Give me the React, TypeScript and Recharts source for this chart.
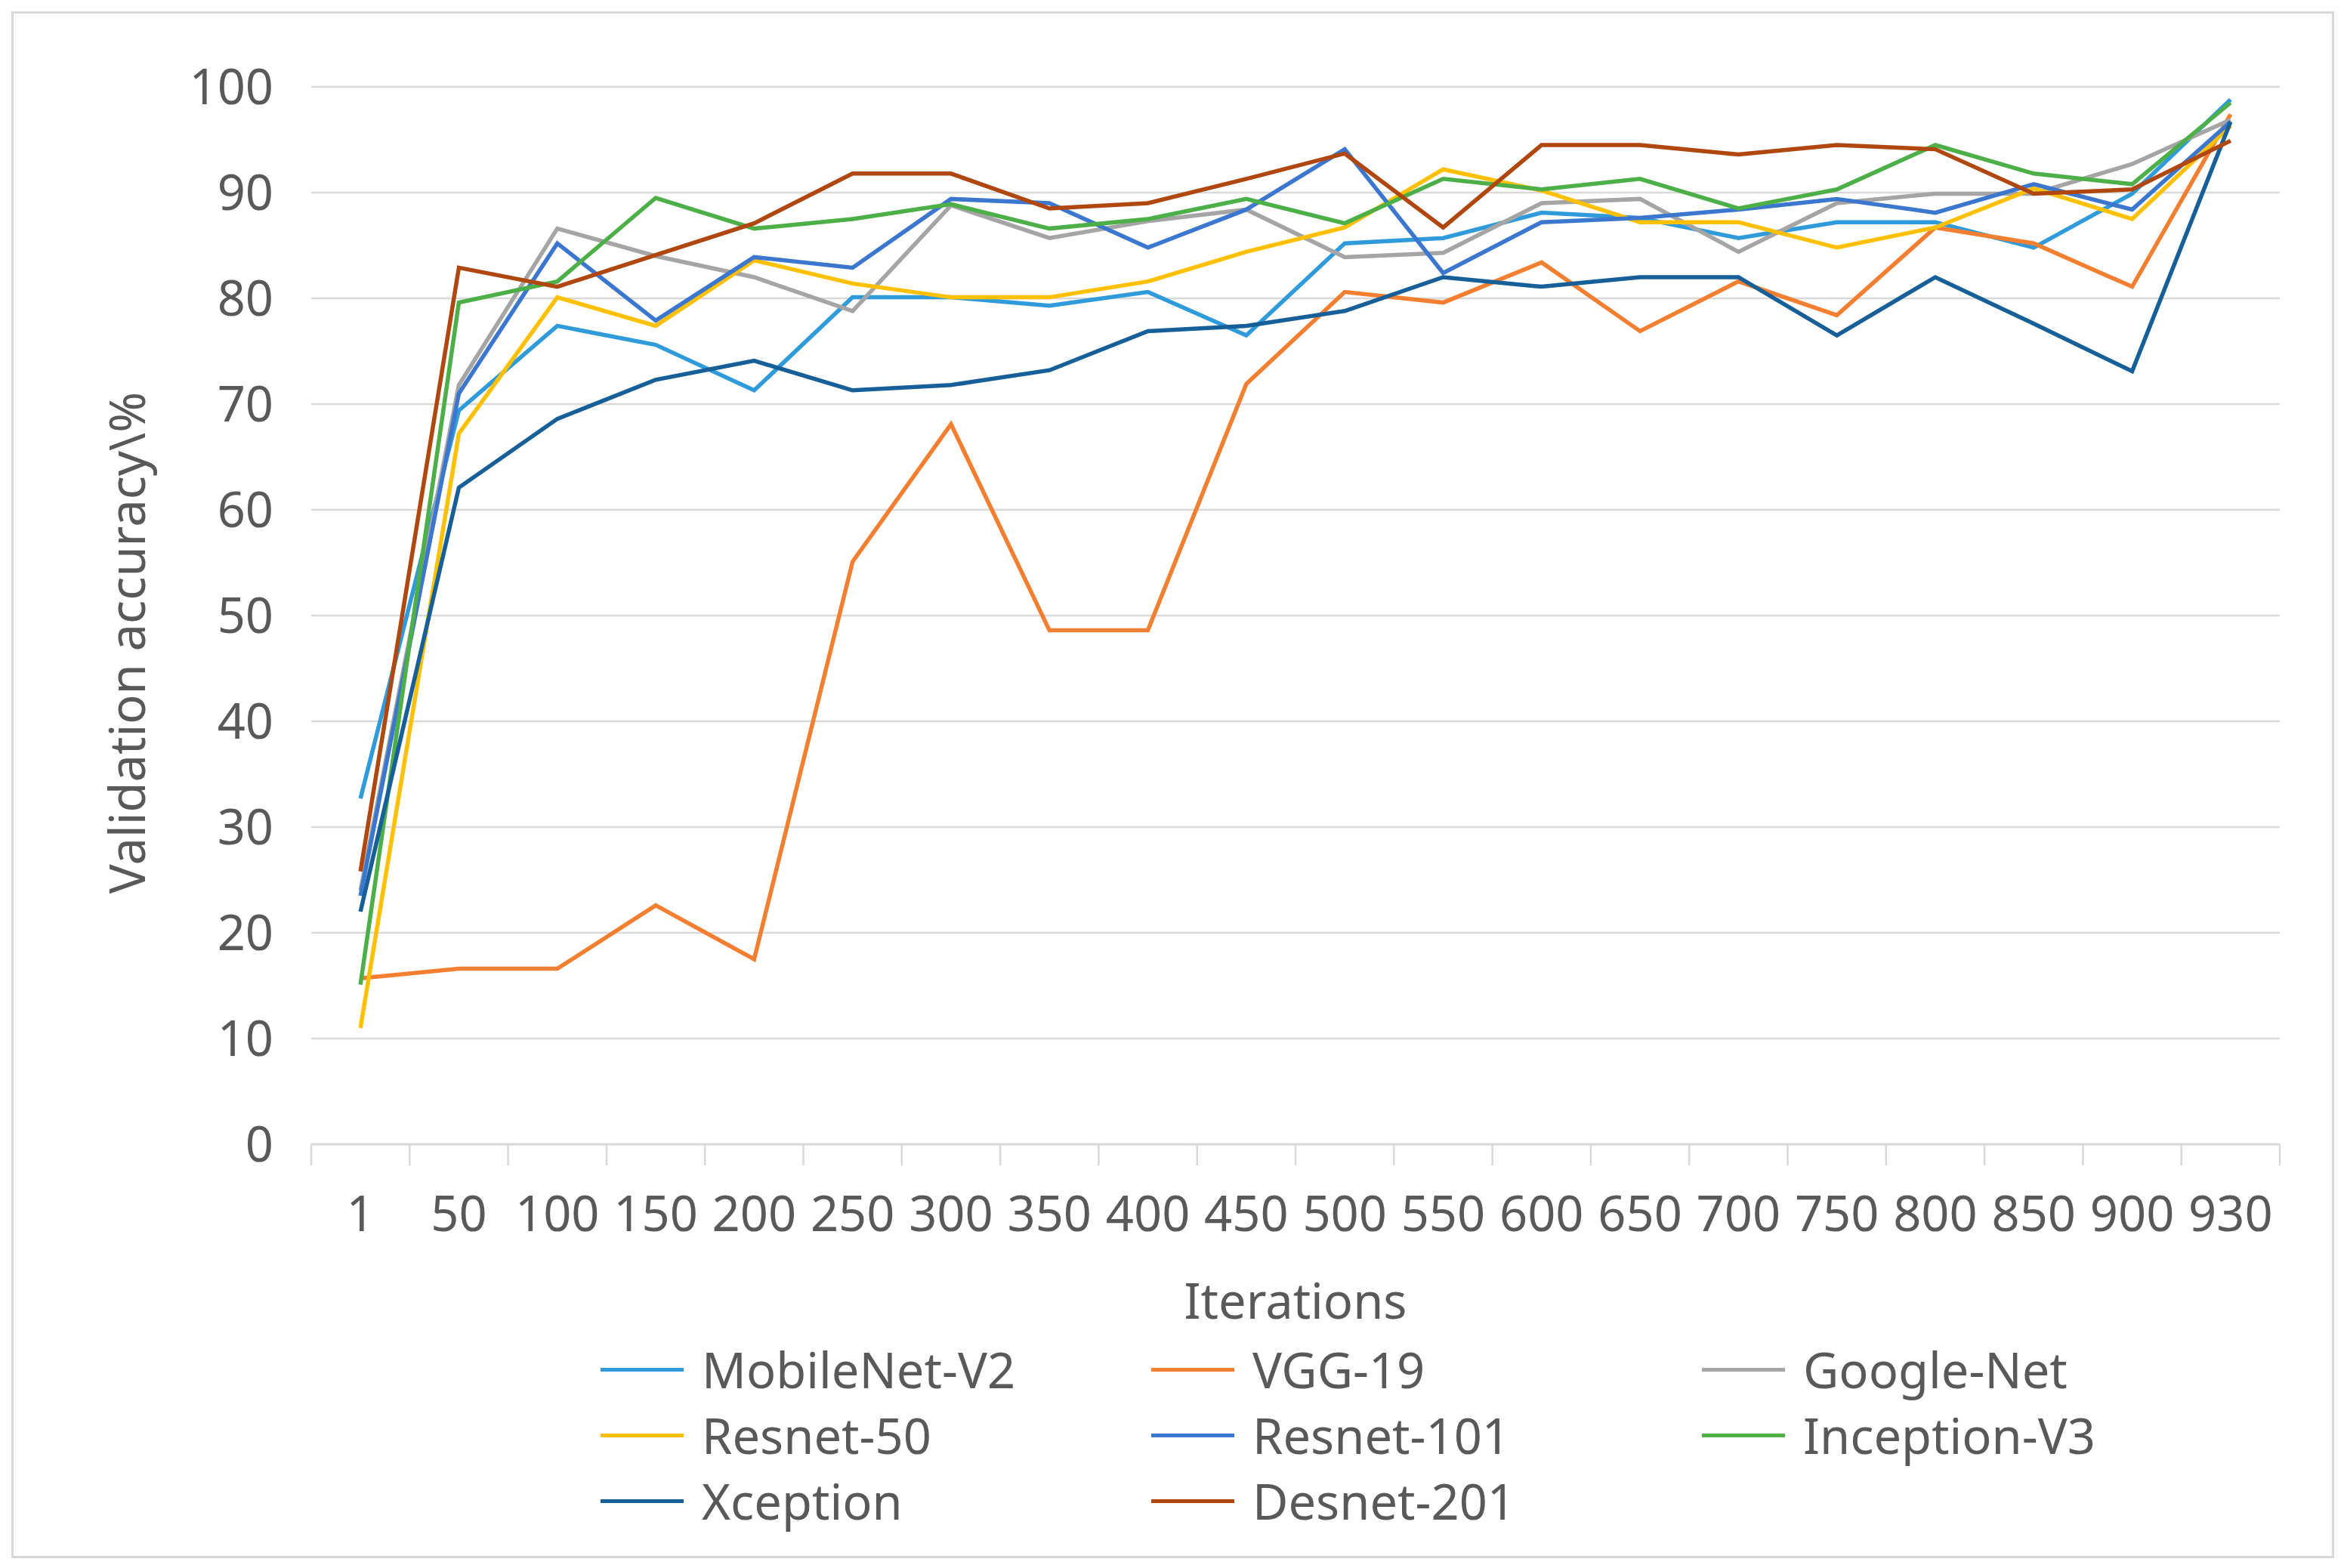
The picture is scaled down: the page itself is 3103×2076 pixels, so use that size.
import { LineChart, Line, XAxis, YAxis, CartesianGrid, Legend } from 'recharts';

const iterations = ['1', '50', '100', '150', '200', '250', '300', '350', '400', '450', '500', '550', '600', '650', '700', '750', '800', '850', '900', '930'];

const mobileNetV2 = [32.7, 69.4, 77.4, 75.6, 71.3, 80.1, 80.1, 79.3, 80.6, 76.5, 85.2, 85.7, 88.1, 87.6, 85.7, 87.2, 87.2, 84.8, 89.9, 98.8];
const vgg19 = [15.7, 16.6, 16.6, 22.6, 17.5, 55.1, 68.1, 48.6, 48.6, 71.9, 80.6, 79.6, 83.4, 76.9, 81.6, 78.4, 86.7, 85.2, 81.1, 97.4];
const googleNet = [24.0, 71.8, 86.6, 84.0, 82.0, 78.8, 88.8, 85.7, 87.3, 88.4, 83.9, 84.3, 89.0, 89.4, 84.4, 89.0, 89.9, 89.9, 92.7, 96.9];
const resnet50 = [11.0, 67.2, 80.1, 77.4, 83.6, 81.4, 80.1, 80.1, 81.6, 84.4, 86.7, 92.2, 90.2, 87.2, 87.2, 84.8, 86.7, 90.4, 87.5, 96.3];
const resnet101 = [23.5, 71.0, 85.2, 77.9, 83.9, 82.9, 89.4, 89.0, 84.8, 88.4, 94.1, 82.4, 87.2, 87.6, 88.4, 89.4, 88.1, 90.8, 88.4, 96.7];
const inceptionV3 = [15.1, 79.6, 81.6, 89.5, 86.6, 87.5, 88.9, 86.6, 87.5, 89.4, 87.1, 91.3, 90.3, 91.3, 88.5, 90.3, 94.5, 91.8, 90.8, 98.5];
const xception = [22.0, 62.1, 68.6, 72.3, 74.1, 71.3, 71.8, 73.2, 76.9, 77.4, 78.8, 82.0, 81.1, 82.0, 82.0, 76.5, 82.0, 77.6, 73.1, 96.7];
const desnet201 = [25.8, 82.9, 81.1, 84.1, 87.1, 91.8, 91.8, 88.5, 89.0, 91.3, 93.7, 86.7, 94.5, 94.5, 93.6, 94.5, 94.1, 89.9, 90.3, 94.9];

const yTicks = [0, 10, 20, 30, 40, 50, 60, 70, 80, 90, 100];

const series = [
  { key: 'MobileNet-V2', values: mobileNetV2, color: '#2F9BDA' },
  { key: 'VGG-19', values: vgg19, color: '#F47F30' },
  { key: 'Google-Net', values: googleNet, color: '#A5A5A5' },
  { key: 'Resnet-50', values: resnet50, color: '#FFC000' },
  { key: 'Resnet-101', values: resnet101, color: '#3B77CF' },
  { key: 'Inception-V3', values: inceptionV3, color: '#4CAF47' },
  { key: 'Xception', values: xception, color: '#175F98' },
  { key: 'Desnet-201', values: desnet201, color: '#AF470F' },
];

const data = iterations.map((it, i) => {
  const row: Record<string, string | number> = { iteration: it };
  series.forEach((s) => {
    row[s.key] = s.values[i];
  });
  return row;
});

const FONT = '"Noto Sans", "Open Sans", sans-serif';
const TEXT = '#595959';
const GRID = '#D9D9D9';
const FS = 65;
const W = 3103;
const H = 2076;
const PLOT_LEFT = 412;
const PLOT_RIGHT = 85;
const BAND = (W - PLOT_LEFT - PLOT_RIGHT) / iterations.length;

const XTick = (props: any) => {
  const { x, y, payload, index } = props;
  const left = x - BAND / 2;
  return (
    <g>
      <line x1={left} y1={y} x2={left} y2={y + 28} stroke={GRID} strokeWidth={2.5} />
      {index === iterations.length - 1 && (
        <line x1={x + BAND / 2} y1={y} x2={x + BAND / 2} y2={y + 28} stroke={GRID} strokeWidth={2.5} />
      )}
      <text x={x} y={y + 115} textAnchor="middle" fill={TEXT} fontSize={FS} fontFamily={FONT}>
        {payload.value}
      </text>
    </g>
  );
};

const YLabel = (props: any) => {
  const { viewBox } = props;
  const cx = 192;
  const cy = viewBox.y + viewBox.height / 2 + 36;
  return (
    <text x={cx} y={cy} transform={`rotate(-90 ${cx} ${cy})`} textAnchor="middle" fill={TEXT} fontSize={FS} fontFamily={FONT}>
      Validation accuracy\%
    </text>
  );
};

const LegendBox = () => (
  <div style={{ position: 'relative', width: W - PLOT_RIGHT, height: 300, fontFamily: FONT }}>
    {series.map((s, i) => {
      const col = i % 3;
      const row = Math.floor(i / 3);
      const left = 795 + col * 729;
      const top = 37 + row * 87;
      return (
        <div key={s.key} style={{ position: 'absolute', left, top: top - 45, height: 90, display: 'flex', alignItems: 'center' }}>
          <div style={{ width: 110, height: 5, background: s.color, marginRight: 24 }} />
          <span style={{ fontSize: FS, color: TEXT, whiteSpace: 'nowrap' }}>{s.key}</span>
        </div>
      );
    })}
  </div>
);

export default function App() {
  return (
    <div style={{ position: 'absolute', left: 0, top: 0, width: W, height: H, background: '#fff' }}>
      <div style={{ position: 'absolute', left: 15, top: 15, width: W - 34, height: H - 34, border: `3px solid ${GRID}` }} />
      <LineChart width={W} height={H} data={data} margin={{ top: 115, right: PLOT_RIGHT, left: 0, bottom: 0 }}>
        <CartesianGrid vertical={false} stroke={GRID} strokeWidth={2.5} />
        <XAxis
          dataKey="iteration"
          height={261}
          tickSize={0}
          tickMargin={0}
          interval={0}
          padding={{ left: BAND / 2, right: BAND / 2 }}
          axisLine={{ stroke: GRID, strokeWidth: 3 }}
          tickLine={false}
          tick={<XTick />}
          label={{ value: 'Iterations', position: 'insideBottom', offset: 30, fill: TEXT, fontSize: FS, fontFamily: FONT }}
        />
        <YAxis
          width={PLOT_LEFT}
          domain={[0, 100]}
          ticks={yTicks}
          interval={0}
          axisLine={false}
          tickLine={false}
          tickSize={0}
          tickMargin={50}
          tick={{ fill: TEXT, fontSize: FS, fontFamily: FONT }}
          label={<YLabel />}
        />
        <Legend verticalAlign="bottom" content={<LegendBox />} />
        {series.map((s) => (
          <Line
            key={s.key}
            dataKey={s.key}
            stroke={s.color}
            strokeWidth={5.5}
            dot={false}
            activeDot={false}
            isAnimationActive={false}
          />
        ))}
      </LineChart>
    </div>
  );
}
